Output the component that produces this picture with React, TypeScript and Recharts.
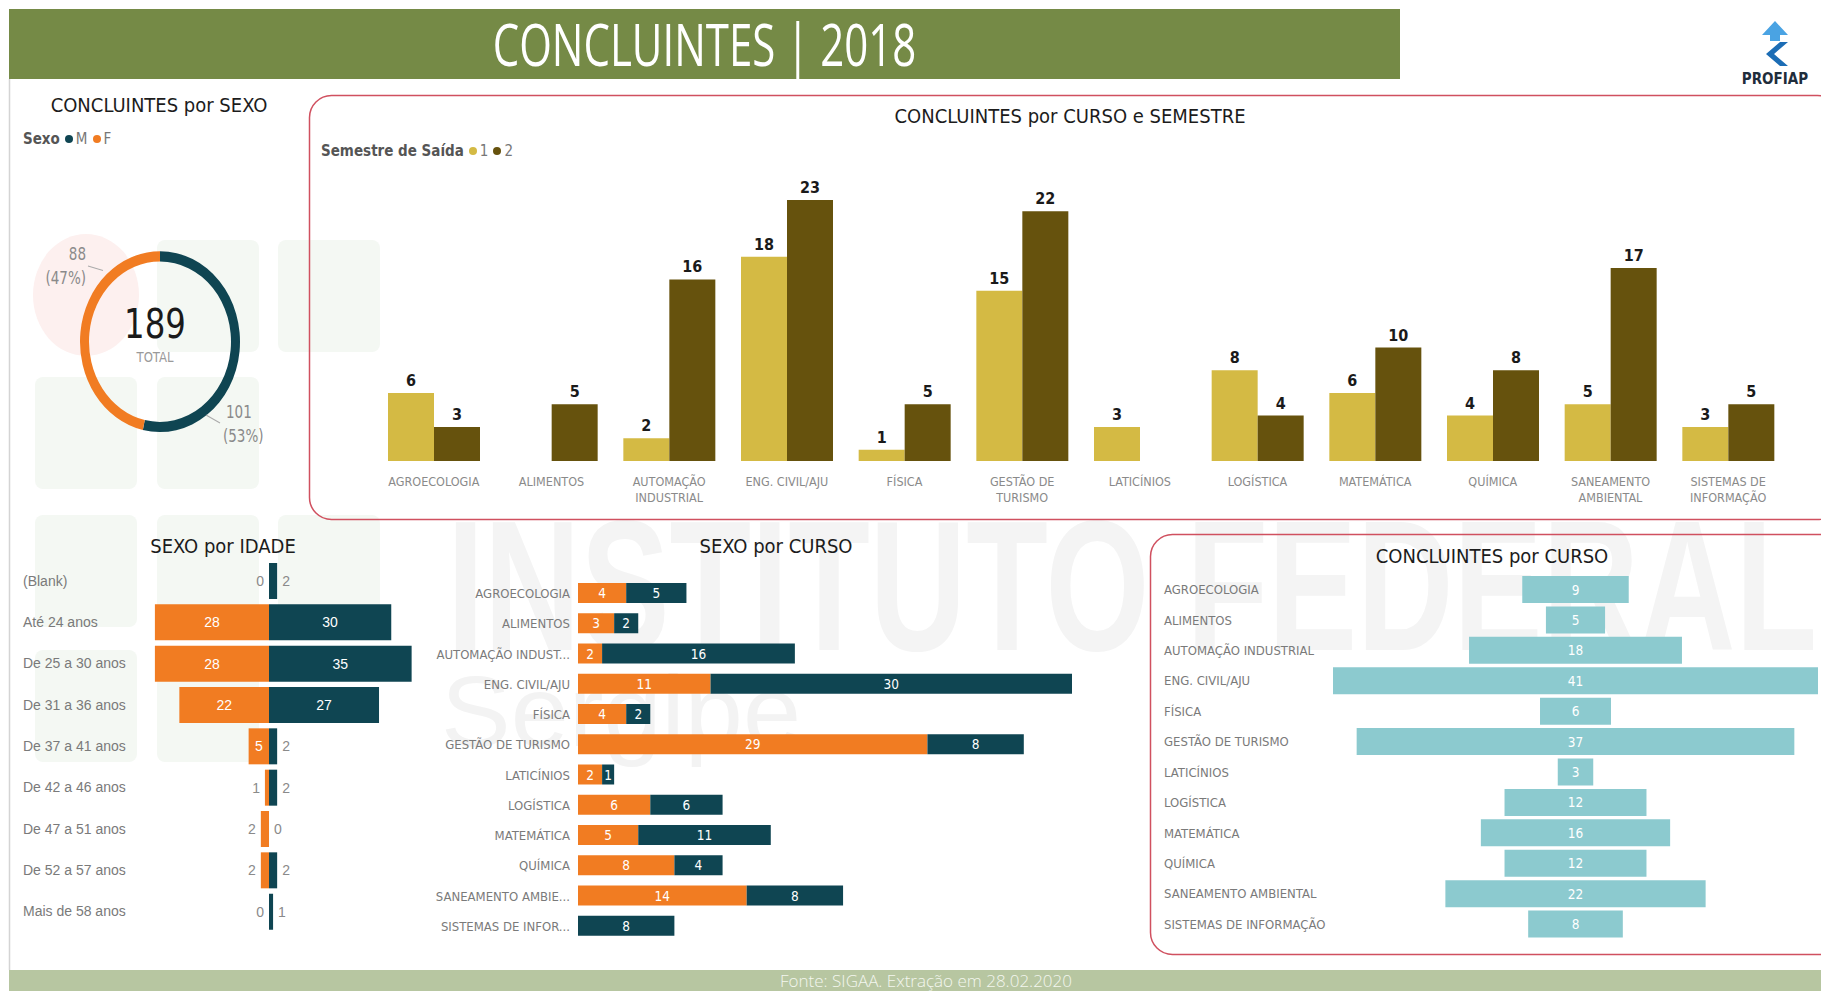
import React from 'react'
import { BarChart, Bar, XAxis, YAxis, PieChart, Pie, Cell, LabelList } from 'recharts'

const NARROW = "'Liberation Sans Narrow', 'DejaVu Sans Condensed', 'Roboto Condensed', Roboto, sans-serif"
const SANS = "'Liberation Sans', Arial, sans-serif"

const F_COLOR = '#f17c22'
const M_COLOR = '#0f4552'
const S1_COLOR = '#d4ba44'
const S2_COLOR = '#66520d'
const FUNNEL_COLOR = '#8ccacf'
const BORDER = '#d0505f'

// courses
const COURSES = [
  'AGROECOLOGIA', 'ALIMENTOS', 'AUTOMAÇÃO INDUSTRIAL', 'ENG. CIVIL/AJU', 'FÍSICA', 'GESTÃO DE TURISMO',
  'LATICÍNIOS', 'LOGÍSTICA', 'MATEMÁTICA', 'QUÍMICA', 'SANEAMENTO AMBIENTAL', 'SISTEMAS DE INFORMAÇÃO',
]
const COURSE_TICKS_WRAPPED = [
  'AGROECOLOGIA', 'ALIMENTOS', 'AUTOMAÇÃO\nINDUSTRIAL', 'ENG. CIVIL/AJU', 'FÍSICA', 'GESTÃO DE\nTURISMO',
  'LATICÍNIOS', 'LOGÍSTICA', 'MATEMÁTICA', 'QUÍMICA', 'SANEAMENTO\nAMBIENTAL', 'SISTEMAS DE\nINFORMAÇÃO',
]
const COURSE_TICKS_SHORT = [
  'AGROECOLOGIA', 'ALIMENTOS', 'AUTOMAÇÃO INDUST...', 'ENG. CIVIL/AJU', 'FÍSICA', 'GESTÃO DE TURISMO',
  'LATICÍNIOS', 'LOGÍSTICA', 'MATEMÁTICA', 'QUÍMICA', 'SANEAMENTO AMBIE...', 'SISTEMAS DE INFOR...',
]
const SEM1 = [6, null, 2, 18, 1, 15, 3, 8, 6, 4, 5, 3]
const SEM2 = [3, 5, 16, 23, 5, 22, null, 4, 10, 8, 17, 5]
const COURSE_F = [4, 3, 2, 11, 4, 29, 2, 6, 5, 8, 14, 0]
const COURSE_M = [5, 2, 16, 30, 2, 8, 1, 6, 11, 4, 8, 8]
const COURSE_TOTAL = [9, 5, 18, 41, 6, 37, 3, 12, 16, 12, 22, 8]

// ages
const AGES = [
  '(Blank)', 'Até 24 anos', 'De 25 a 30 anos', 'De 31 a 36 anos', 'De 37 a 41 anos',
  'De 42 a 46 anos', 'De 47 a 51 anos', 'De 52 a 57 anos', 'Mais de 58 anos',
]
const AGE_F = [0, 28, 28, 22, 5, 1, 2, 2, 0]
const AGE_M = [2, 30, 35, 27, 2, 2, 0, 2, 1]

// sexo
const SEXO = [
  { name: 'M', value: 101 },
  { name: 'F', value: 88 },
]
const SEX_COLORS: Record<string, string> = { M: M_COLOR, F: F_COLOR }

const semesterData = COURSES.map((c, i) => ({ course: c, s1: SEM1[i], s2: SEM2[i] }))
const courseSexData = COURSES.map((c, i) => ({ course: c, f: COURSE_F[i], m: COURSE_M[i] }))
const maxTotal = Math.max(...COURSE_TOTAL)
const funnelData = COURSES.map((c, i) => ({ course: c, pad: (maxTotal - COURSE_TOTAL[i]) / 2, total: COURSE_TOTAL[i] }))
const ageData = AGES.map((a, i) => ({ age: a, f: -AGE_F[i], m: AGE_M[i] }))

const abs = (style: React.CSSProperties) => ({ position: 'absolute' as const, ...style })

const titleStyle: React.CSSProperties = { textAlign: 'center', fontSize: 20, fontWeight: 500, color: '#1c1c1c' }

function Backdrop() {
  const squares = [[157, 240], [278, 240], [35, 377], [157, 377], [35, 515], [157, 515], [278, 515], [35, 650], [157, 650]]
  return (
    <svg width={1821} height={991} style={abs({ left: 0, top: 0 })}>
      {squares.map(([x, y], i) => (
        <rect key={i} x={x} y={y} width={102} height={112} rx={8} fill="#f4f8f3" />
      ))}
      <ellipse cx={86} cy={295} rx={53} ry={61} fill="#fdf0ef" />
      <text x={447} y={650} fontSize={185} fontWeight="bold" fontFamily={SANS} fill="#f4f4f4"
        textLength={1370} lengthAdjust="spacingAndGlyphs">INSTITUTO FEDERAL</text>
      <text x={441} y={746} fontSize={100} fontFamily={SANS} fill="#f3f3f3"
        textLength={360} lengthAdjust="spacingAndGlyphs">Sergipe</text>
      <line x1={9.5} y1={79} x2={9.5} y2={970} stroke="#d4d4d4" strokeWidth={1.5} />
      <rect x={309.5} y={95.5} width={1530} height={424} rx={22} fill="none" stroke={BORDER} strokeWidth={1.5} />
      <rect x={1150.5} y={534.5} width={700} height={420} rx={22} fill="none" stroke={BORDER} strokeWidth={1.5} />
    </svg>
  )
}

function Header() {
  return (
    <>
      <div style={abs({ left: 9, top: 9, width: 1391, height: 70, background: '#758a46' })}>
        <div style={{
          width: '100%', textAlign: 'center', color: '#fff', fontFamily: "'Open Sans', sans-serif",
          fontWeight: 400, fontSize: 50, lineHeight: '70px', transform: 'scale(0.84, 1.16)',
        }}>CONCLUINTES | 2018</div>
      </div>
      <svg width={90} height={80} style={abs({ left: 1730, top: 13 })}>
        <polygon points="45,8 58,22 50,22 50,28 40,28 40,22 32,22" fill="#4aa3e3" />
        <polygon points="50,29 58,29 44,41 58,53 50,53 36,41" fill="#1c6db5" />
        <text x={45} y={71} textAnchor="middle" fontSize={15} fontWeight="bold" fontFamily={NARROW}
          fill="#1f2d3b">PROFIAP</text>
      </svg>
    </>
  )
}

function Footer() {
  return (
    <div style={abs({ left: 9, top: 970, width: 1812, height: 21, background: '#b7c6a1' })}>
      <div style={{
        textAlign: 'center', color: '#f4f7ef', fontFamily: "'Open Sans', sans-serif", fontWeight: 300,
        fontSize: 17, lineHeight: '21px', paddingLeft: 22,
      }}>Fonte: SIGAA. Extração em 28.02.2020</div>
    </div>
  )
}

const Dot = ({ color }: { color: string }) => (
  <span style={{ display: 'inline-block', width: 8, height: 8, borderRadius: 4, background: color, margin: '0 3px 1px 5px' }} />
)

const renderSexLabel = (p: any) => {
  const { cx, cy, index, value, percent } = p
  const pct = `(${Math.round(percent * 100)}%)`
  const common = { fontSize: 15, fontFamily: NARROW, fill: '#8a8a8a' }
  if (index === 1) {
    return (
      <g>
        <line x1={cx - 72} y1={cy - 67} x2={cx - 57} y2={cy - 63} stroke="#aaa" />
        <text x={cx - 74} y={cy - 72} textAnchor="end" {...common}>{value}</text>
        <text x={cx - 74} y={cy - 51} textAnchor="end" {...common}>{pct}</text>
      </g>
    )
  }
  return (
    <g>
      <line x1={cx + 46} y1={cy + 65} x2={cx + 60} y2={cy + 72} stroke="#aaa" />
      <text x={cx + 66} y={cy + 68} textAnchor="start" {...common}>{value}</text>
      <text x={cx + 63} y={cy + 89} textAnchor="start" {...common}>{pct}</text>
    </g>
  )
}

function SexDonut() {
  const total = SEXO.reduce((s, d) => s + d.value, 0)
  return (
    <>
      <div style={abs({ left: 14, top: 93, width: 290, ...titleStyle })}>
        CONCLUINTES por SEXO
      </div>
      <div style={abs({ left: 23, top: 130, fontSize: 15, color: '#555' })}>
        <b style={{ fontWeight: 'bold', color: '#555' }}>Sexo</b>
        {SEXO.map((d) => (
          <span key={d.name} style={{ color: '#777' }}><Dot color={SEX_COLORS[d.name]} />{d.name}</span>
        ))}
      </div>
      <div style={abs({ left: 15, top: 226, width: 280, height: 220, transform: 'scaleY(1.13)', transformOrigin: '50% 50%' })}>
        <PieChart width={280} height={220}>
          <Pie data={SEXO} dataKey="value" nameKey="name" cx={140} cy={110} innerRadius={71} outerRadius={80}
            startAngle={90} endAngle={-270} stroke="none" isAnimationActive={false}
            label={renderSexLabel} labelLine={false}>
            {SEXO.map((d) => <Cell key={d.name} fill={SEX_COLORS[d.name]} />)}
          </Pie>
        </PieChart>
        <div style={abs({ left: 0, top: 80, width: 280, textAlign: 'center', fontSize: 36, lineHeight: '40px', color: '#1a1a1a' })}>{total}</div>
        <div style={abs({ left: 0, top: 121, width: 280, textAlign: 'center', fontSize: 13, lineHeight: '16px', color: '#9a9a9a' })}>TOTAL</div>
      </div>
    </>
  )
}

const SemesterTick = ({ x, y, payload }: any) => {
  const i = COURSES.indexOf(payload.value)
  const lines = (COURSE_TICKS_WRAPPED[i] ?? payload.value).split('\n')
  return (
    <text x={x} y={y} textAnchor="middle" fill="#8a8a8a" fontSize={12.5} fontFamily={NARROW}>
      {lines.map((l: string, k: number) => (
        <tspan key={k} x={x} dy={k === 0 ? 25 : 16}>{l}</tspan>
      ))}
    </text>
  )
}

function SemesterChart() {
  return (
    <>
      <div style={abs({ left: 760, top: 104, width: 620, ...titleStyle })}>
        CONCLUINTES por CURSO e SEMESTRE
      </div>
      <div style={abs({ left: 321, top: 142, fontSize: 15, color: '#555' })}>
        <b>Semestre de Saída</b>
        <span style={{ color: '#777' }}><Dot color={S1_COLOR} />1</span>
        <span style={{ color: '#777' }}><Dot color={S2_COLOR} />2</span>
      </div>
      <div style={abs({ left: 330, top: 160 })}>
        <BarChart width={1480} height={360} data={semesterData} barGap={0} barSize={46}
          margin={{ top: 40, right: 23, left: 45, bottom: 0 }}>
          <XAxis dataKey="course" axisLine={false} tickLine={false} tickSize={0} tickMargin={0} height={59}
            interval={0} tick={<SemesterTick />} />
          <YAxis hide domain={[0, 23]} />
          <Bar dataKey="s1" fill={S1_COLOR} isAnimationActive={false}>
            <LabelList dataKey="s1" position="top" offset={7} fill="#1a1a1a" fontSize={16} fontWeight="bold" fontFamily={NARROW} />
          </Bar>
          <Bar dataKey="s2" fill={S2_COLOR} isAnimationActive={false}>
            <LabelList dataKey="s2" position="top" offset={7} fill="#1a1a1a" fontSize={16} fontWeight="bold" fontFamily={NARROW} />
          </Bar>
        </BarChart>
      </div>
    </>
  )
}

const ageLabel = (side: 'f' | 'm') => (p: any) => {
  const { x, y, width, height, value } = p
  if (value === undefined || value === null) return null
  const v = Math.abs(Number(value))
  const left = Math.min(x, x + width)
  const right = Math.max(x, x + width)
  const cy = y + height / 2
  const font = { fontSize: 14, fontFamily: SANS }
  if (v >= 5) {
    return <text x={(left + right) / 2} y={cy} dy={5} textAnchor="middle" fill="#fff" {...font}>{v}</text>
  }
  return side === 'f'
    ? <text x={left - 5} y={cy} dy={5} textAnchor="end" fill="#8a8a8a" {...font}>{v}</text>
    : <text x={right + 5} y={cy} dy={5} textAnchor="start" fill="#8a8a8a" {...font}>{v}</text>
}

const AgeTick = ({ y, payload }: any) => (
  <text x={9} y={y} dy={5} textAnchor="start" fill="#7a7a7a" fontSize={14} fontFamily={SANS}>{payload.value}</text>
)

function AgeChart() {
  return (
    <>
      <div style={abs({ left: 123, top: 534, width: 200, ...titleStyle })}>
        SEXO por IDADE
      </div>
      <div style={abs({ left: 14, top: 560 })}>
        <BarChart width={430} height={372} data={ageData} layout="vertical" stackOffset="sign"
          barSize={36} margin={{ top: 0, right: 12, left: 0, bottom: 0 }}>
          <XAxis type="number" hide domain={[-40, 40]} />
          <YAxis type="category" dataKey="age" width={92} axisLine={false} tickLine={false} interval={0} tick={<AgeTick />} />
          <Bar dataKey="f" stackId="s" fill={F_COLOR} minPointSize={0.01} isAnimationActive={false}>
            <LabelList dataKey="f" content={ageLabel('f')} />
          </Bar>
          <Bar dataKey="m" stackId="s" fill={M_COLOR} minPointSize={0.01} isAnimationActive={false}>
            <LabelList dataKey="m" content={ageLabel('m')} />
          </Bar>
        </BarChart>
      </div>
    </>
  )
}

const insideLabel = (p: any) => {
  const { x, y, width, height, value } = p
  if (!value) return null
  return (
    <text x={x + width / 2} y={y + height / 2} dy={5} textAnchor="middle" fill="#fff" fontSize={13.5} fontFamily={NARROW}>{value}</text>
  )
}

const CourseShortTick = ({ y, payload }: any) => {
  const i = COURSES.indexOf(payload.value)
  return (
    <text x={170} y={y} dy={5} textAnchor="end" fill="#7a7a7a" fontSize={13} fontFamily={NARROW}>{COURSE_TICKS_SHORT[i]}</text>
  )
}

function CourseSexChart() {
  return (
    <>
      <div style={abs({ left: 640, top: 534, width: 272, ...titleStyle })}>
        SEXO por CURSO
      </div>
      <div style={abs({ left: 400, top: 578 })}>
        <BarChart width={680} height={363} data={courseSexData} layout="vertical" barSize={20}
          margin={{ top: 0, right: 8, left: 0, bottom: 0 }}>
          <XAxis type="number" hide domain={[0, 41]} />
          <YAxis type="category" dataKey="course" width={178} axisLine={false} tickLine={false} interval={0} tick={<CourseShortTick />} />
          <Bar dataKey="f" stackId="c" fill={F_COLOR} isAnimationActive={false}>
            <LabelList dataKey="f" content={insideLabel} />
          </Bar>
          <Bar dataKey="m" stackId="c" fill={M_COLOR} isAnimationActive={false}>
            <LabelList dataKey="m" content={insideLabel} />
          </Bar>
        </BarChart>
      </div>
    </>
  )
}

const CourseLeftTick = ({ y, payload }: any) => (
  <text x={9} y={y} dy={5} textAnchor="start" fill="#7a7a7a" fontSize={13} fontFamily={NARROW}>{payload.value}</text>
)

function CourseFunnel() {
  return (
    <>
      <div style={abs({ left: 1352, top: 544, width: 280, ...titleStyle })}>
        CONCLUINTES por CURSO
      </div>
      <div style={abs({ left: 1155, top: 574 })}>
        <BarChart width={670} height={365} data={funnelData} layout="vertical" barSize={27}
          margin={{ top: 0, right: 7, left: 0, bottom: 0 }}>
          <XAxis type="number" hide domain={[0, maxTotal]} />
          <YAxis type="category" dataKey="course" width={178} axisLine={false} tickLine={false} interval={0} tick={<CourseLeftTick />} />
          <Bar dataKey="pad" stackId="f" fill="transparent" isAnimationActive={false} />
          <Bar dataKey="total" stackId="f" fill={FUNNEL_COLOR} isAnimationActive={false}>
            <LabelList dataKey="total" content={insideLabel} />
          </Bar>
        </BarChart>
      </div>
    </>
  )
}

export default function App() {
  return (
    <div style={abs({ left: 0, top: 0, width: 1821, height: 991, background: '#fff', overflow: 'hidden', fontFamily: NARROW })}>
      <Backdrop />
      <Header />
      <SexDonut />
      <SemesterChart />
      <AgeChart />
      <CourseSexChart />
      <CourseFunnel />
      <Footer />
    </div>
  )
}
